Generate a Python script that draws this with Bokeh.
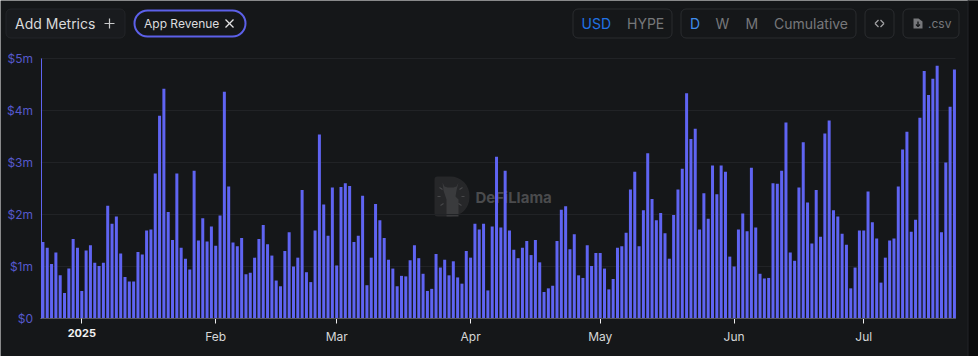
import pandas as pd
from bokeh.plotting import figure
from bokeh.embed import file_html
from bokeh.resources import INLINE
from bokeh.models import BoxAnnotation, Label, PolyAnnotation, FixedTicker, Range1d, ColumnDataSource, DatetimeAxis, LinearAxis

start_date = "2024-12-23"
revenue_m = [
 1.47,1.36,1.05,1.27,0.83,0.49,0.96,1.53,1.36,0.53,1.31,1.41,1.07,1.01,1.07,2.17,1.82,1.96,1.25,0.80,
 0.71,0.71,1.28,1.23,1.69,1.71,2.79,3.90,4.42,2.05,1.51,2.79,1.36,1.15,0.94,2.84,1.50,1.93,1.48,1.77,
 1.40,1.98,4.36,2.54,1.46,1.39,1.55,0.85,0.88,1.17,1.53,1.80,1.43,1.21,0.73,0.62,1.30,1.66,1.00,1.17,
 2.47,0.89,0.70,1.69,3.54,2.19,1.59,2.52,1.02,2.53,2.60,2.55,1.47,1.59,2.36,0.64,1.17,2.20,1.89,1.55,
 1.13,0.96,0.62,0.82,0.81,1.12,1.41,1.16,0.86,0.53,0.57,1.24,0.98,1.13,0.83,1.10,0.79,0.67,1.30,1.17,
 1.82,1.71,1.82,0.54,1.77,3.11,1.75,2.84,1.69,1.32,1.16,1.36,1.49,1.22,1.51,1.08,0.51,0.58,0.63,1.49,
 2.09,2.16,1.33,1.62,0.83,0.78,1.41,1.01,1.26,1.26,0.96,0.56,0.76,1.36,1.39,1.65,2.48,2.82,1.39,2.08,
 3.18,2.30,1.89,2.03,1.64,1.15,1.99,2.48,2.88,4.33,3.45,3.65,1.71,2.41,1.92,2.94,2.39,2.94,2.82,1.19,
 1.00,1.71,2.02,1.68,2.90,1.75,0.86,0.77,0.78,2.60,2.59,2.84,3.77,1.27,1.11,2.52,3.39,2.23,1.44,2.47,
 1.57,3.56,3.81,2.08,1.96,1.63,1.42,0.58,0.98,1.69,1.69,2.44,1.85,1.54,0.69,1.17,1.50,1.54,2.54,3.25,
 3.59,1.67,1.90,3.86,4.76,4.30,4.61,4.86,1.66,3.00,4.07,4.79,
]
y_ticks = [0, 1, 2, 3, 4, 5]
y_labels = ["$0", "$1m", "$2m", "$3m", "$4m", "$5m"]
year_tick = "2025-01-01"
year_label = "2025"
month_ticks = ["2025-02-01", "2025-03-01", "2025-04-01", "2025-05-01", "2025-06-01", "2025-07-01"]
month_labels = ["Feb", "Mar", "Apr", "May", "Jun", "Jul"]

BG = "#151719"
BORDER = "#2a2c2f"
PURPLE = "#5f64f2"
FONT = "Inter"

DAY = 86400000.0
jan1 = pd.Timestamp(year_tick).timestamp() * 1000
PX_DAY = 4.32
PX_M = 52.0

def ms(page_x):
    return jan1 + (page_x - 81.3) / PX_DAY * DAY

dates = pd.date_range(start_date, periods=len(revenue_m), freq="D")
src = ColumnDataSource(dict(x=dates, y=revenue_m))

# the frame fills the whole canvas; the axes sit inside it at fixed locations
p = figure(width=978, height=356, output_backend="svg", toolbar_location=None,
           x_axis_location=None, y_axis_location=None,
           x_axis_type="datetime", x_range=Range1d(ms(0), ms(978)), y_range=Range1d(-38 / PX_M, 318 / PX_M),
           background_fill_color=BG, border_fill_color=BG, outline_line_color=None,
           min_border_left=0, min_border_right=0, min_border_top=0, min_border_bottom=0)
p.grid.visible = False

p.segment(x0=[ms(40)] * 5, x1=[ms(955)] * 5, y0=y_ticks[1:], y1=y_ticks[1:], line_color="#212326", line_width=1)
p.vbar(x="x", top="y", width=3.0 / PX_DAY * DAY, source=src, fill_color=PURPLE, line_color=None)

def x_axis(ticks, labels, color, style, size):
    tms = [pd.Timestamp(t).timestamp() * 1000 for t in ticks]
    a = DatetimeAxis(ticker=FixedTicker(ticks=tms), fixed_location=0, bounds=(ms(40), ms(955)))
    a.major_label_overrides = {t: l for t, l in zip(tms, labels)}
    a.major_label_text_color = color
    a.major_label_text_font = FONT
    a.major_label_text_font_size = size
    a.major_label_text_font_style = style
    a.major_label_standoff = 5
    a.major_tick_in = 0
    a.major_tick_out = 5
    a.major_tick_line_color = "#eeeeee"
    a.minor_tick_line_color = None
    a.axis_line_color = "#55565a"
    a.axis_line_width = 1
    p.add_layout(a, "below")

x_axis(month_ticks, month_labels, "#d6d7d8", "normal", "12px")
x_axis([year_tick], [year_label], "#f2f2f2", "bold", "11px")

ya = LinearAxis(ticker=FixedTicker(ticks=y_ticks), fixed_location=ms(40.5), bounds=(0, 5))
ya.major_label_overrides = {t: l for t, l in zip(y_ticks, y_labels)}
ya.major_label_text_color = "#5559cc"
ya.major_label_text_font = FONT
ya.major_label_text_font_size = "12px"
ya.major_label_standoff = 8
ya.major_tick_in = 0
ya.major_tick_out = 0
ya.major_tick_line_color = None
ya.minor_tick_line_color = None
ya.axis_line_color = "#5f64f2"
ya.axis_line_width = 1
p.add_layout(ya, "left")

# page coordinates -> screen units (y measured up from the canvas bottom)
def sx(x): return x
def sy(y): return 356 - y

def box(l, t, r, b, fill=None, line=BORDER, lw=1, radius=5, level="overlay"):
    p.add_layout(BoxAnnotation(left=sx(l), right=sx(r), top=sy(t), bottom=sy(b),
                               left_units="screen", right_units="screen", top_units="screen", bottom_units="screen",
                               fill_color=fill, fill_alpha=1 if fill else 0, line_color=line, line_width=lw,
                               line_alpha=1 if line else 0, border_radius=radius, level=level, editable=False))

def lab(x, y, text, size, color, align="left", style="normal", level="overlay"):
    p.add_layout(Label(x=sx(x), y=sy(y), x_units="screen", y_units="screen", text=text, text_align=align,
                       text_baseline="middle", text_color=color, text_font=FONT, text_font_size=f"{size}px",
                       text_font_style=style, level=level))

def poly(xs, ys, color, level="underlay"):
    p.add_layout(PolyAnnotation(xs=[sx(v) for v in xs], ys=[sy(v) for v in ys], xs_units="screen", ys_units="screen",
                                fill_color=color, fill_alpha=1, line_color=None, level=level, editable=False))

def stroke(x0, y0, x1, y1, color, w=1.2, level="overlay"):
    d = ((x1 - x0) ** 2 + (y1 - y0) ** 2) ** 0.5
    nx, ny = -(y1 - y0) / d * w / 2, (x1 - x0) / d * w / 2
    poly([x0 + nx, x1 + nx, x1 - nx, x0 - nx], [y0 + ny, y1 + ny, y1 - ny, y0 - ny], color, level)

# header controls
box(5.5, 8.5, 124.5, 37.5, fill="#191b1e", line="#232528")
lab(14.5, 23, "Add Metrics", 14, "#d9dadb")
stroke(104, 23, 114, 23, "#c8c9ca")
stroke(109, 18, 109, 28, "#c8c9ca")
box(134, 10, 245, 36, fill=BG, line="#5c60e8", lw=2, radius=13)
lab(143.5, 23, "App Revenue", 12, "#dcdddf")
stroke(225, 19, 233, 27, "#e4e4e4")
stroke(233, 19, 225, 27, "#e4e4e4")

box(572.5, 8.5, 671.5, 37.5)
lab(581, 23, "USD", 14, "#2172e5")
lab(626.5, 23, "HYPE", 14, "#77787b")
box(680.5, 8.5, 855.5, 37.5)
lab(689.5, 23, "D", 14, "#3f8cea")
lab(715, 23, "W", 14, "#77787b")
lab(745, 23, "M", 14, "#77787b")
lab(773.5, 23, "Cumulative", 14, "#77787b")
box(864.5, 8.5, 893.5, 37.5)
stroke(878, 19.5, 874.5, 23, "#a0a1a3")
stroke(874.5, 23, 878, 26.5, "#a0a1a3")
stroke(880, 19.5, 883.5, 23, "#a0a1a3")
stroke(883.5, 23, 880, 26.5, "#a0a1a3")
box(902.5, 8.5, 958.5, 37.5)
poly([913, 918, 922, 922, 913], [18, 18, 21, 28, 28], "#77787b", level="overlay")
stroke(917.5, 21, 917.5, 26, BG, 1.4)
stroke(915.5, 24, 917.5, 26, BG, 1.2)
stroke(919.5, 24, 917.5, 26, BG, 1.2)
lab(927.5, 23, ".csv", 12, "#77787b")

# watermark
box(434, 176, 469, 216, fill="#262729", line=None, radius=(3, 19, 19, 3), level="underlay")
poly([442, 444, 447, 453, 456, 458, 456, 455, 458, 458, 446, 446, 443],
     [182, 186, 187, 187, 186, 182, 190, 196, 199, 216, 216, 199, 190], "#3a3b3d")
for rx, ry, dx, dy in [(439, 187, 3, 2), (437, 196, 3, 0), (440, 205, 3, -2), (462, 187, -3, 2), (464, 196, -3, 0), (461, 205, -3, -2)]:
    stroke(rx, ry, rx + dx, ry + dy, "#48494b", 1, level="underlay")
lab(475, 197, "DeFiLlama", 15, "#4a4b4d", style="bold", level="underlay")

# darker page strip on the right of the panel
box(967.5, -1, 979, 357, fill="#0a0b0c", line="#232528", radius=0)

open("out.html", "w").write(file_html(p, INLINE))
